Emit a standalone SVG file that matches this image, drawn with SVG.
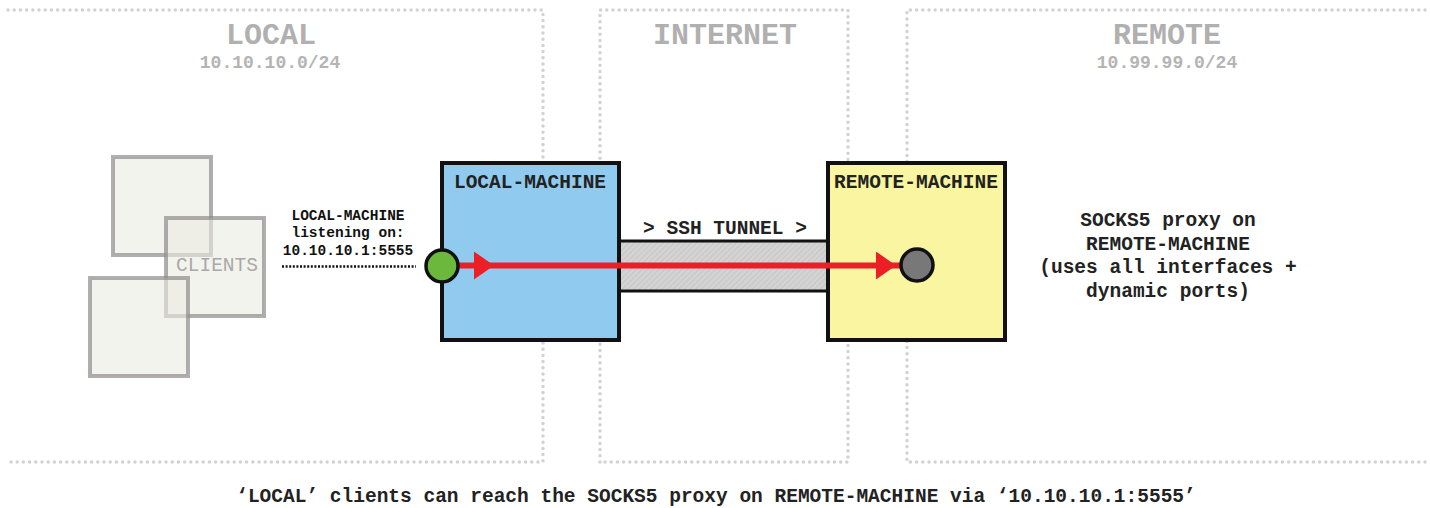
<svg xmlns="http://www.w3.org/2000/svg" width="1430" height="508" viewBox="0 0 1430 508">
  <style>
    .zone { fill: none; stroke: #d2d2d2; stroke-width: 3.5; stroke-dasharray: 0 6.2; stroke-linecap: round; }
    .title { font-family: "Liberation Mono", "Courier New", monospace; font-weight: bold; font-size: 30px; fill: #b0b0b0; text-anchor: middle; }
    .sub { font-family: "Liberation Mono", "Courier New", monospace; font-weight: bold; font-size: 18px; fill: #b4b4b4; text-anchor: middle; }
    .lbl { font-family: "Liberation Mono", "Courier New", monospace; font-weight: bold; font-size: 19.5px; fill: #222; text-anchor: middle; }
    .small { font-family: "Liberation Mono", "Courier New", monospace; font-weight: bold; font-size: 14.5px; fill: #111; text-anchor: middle; }
    .client { fill: #ebebe3; fill-opacity: 0.6; stroke: #8f8b8b; stroke-opacity: 0.7; stroke-width: 4; }
    .box { stroke: #111; stroke-width: 4; }
    .red { stroke: #ec1f26; stroke-width: 6; fill: none; }
  </style>
  <defs>
    <pattern id="hatch" width="4" height="4" patternUnits="userSpaceOnUse" patternTransform="rotate(45)">
      <rect width="4" height="4" fill="#d3d3d3"/>
      <line x1="0" y1="0" x2="0" y2="4" stroke="#bdbdbd" stroke-width="1.2"/>
    </pattern>
    <marker id="arrow" markerUnits="userSpaceOnUse" markerWidth="22" markerHeight="30" refX="20" refY="14" orient="auto">
      <path d="M0,0 L20,14 L0,28 Z" fill="#ec1f26"/>
    </marker>
  </defs>

  <g id="zones">
    <path class="zone" d="M8,10 H543 V462 H8"/>
    <path class="zone" d="M600,462 V10 H848 V462 H600"/>
    <path class="zone" d="M1425,10 H907 V462 H1425"/>
  </g>

  <g id="zone-labels">
    <text class="title" x="271" y="44">LOCAL</text>
    <text class="sub" x="270" y="68">10.10.10.0/24</text>
    <text class="title" x="725" y="44">INTERNET</text>
    <text class="title" x="1167" y="44">REMOTE</text>
    <text class="sub" x="1167" y="68">10.99.99.0/24</text>
  </g>

  <g id="clients">
    <rect class="client" x="113" y="157" width="98" height="98"/>
    <rect class="client" x="166" y="218" width="98" height="98"/>
    <rect class="client" x="90" y="278" width="98" height="98"/>
    <text x="217" y="271" font-family="Liberation Mono, Courier New, monospace" font-size="19.5" fill="#a8a8a8" text-anchor="middle">CLIENTS</text>
  </g>

  <g id="listen-label">
    <text class="small" x="348" y="220">LOCAL-MACHINE</text>
    <text class="small" x="348" y="237">listening on:</text>
    <text class="small" x="348" y="255">10.10.10.1:5555</text>
  </g>

  <g id="tunnel">
    <rect x="619" y="241" width="209" height="50" fill="url(#hatch)" stroke="#111" stroke-width="3"/>
    <text class="lbl" x="725" y="234">&gt; SSH TUNNEL &gt;</text>
  </g>

  <g id="local-machine">
    <rect class="box" x="442" y="163" width="177" height="177" fill="#90cbef"/>
    <text class="lbl" x="530" y="188">LOCAL-MACHINE</text>
  </g>

  <g id="remote-machine">
    <rect class="box" x="828" y="163" width="177" height="177" fill="#f9f5a0"/>
    <text class="lbl" x="916" y="188">REMOTE-MACHINE</text>
  </g>

  <g id="socks-label">
    <text class="lbl" x="1168" y="226">SOCKS5 proxy on</text>
    <text class="lbl" x="1168" y="250">REMOTE-MACHINE</text>
    <text class="lbl" x="1168" y="273">(uses all interfaces +</text>
    <text class="lbl" x="1168" y="297">dynamic ports)</text>
  </g>

  <g id="connectors">
    <line x1="282" y1="266.5" x2="416" y2="266.5" stroke="#111" stroke-width="2.5" stroke-dasharray="2 1.6"/>
    <line class="red" x1="442" y1="265.5" x2="910" y2="265.5"/>
    <line x1="470" y1="265.5" x2="494" y2="265.5" stroke="none" marker-end="url(#arrow)"/>
    <line x1="860" y1="265.5" x2="896" y2="265.5" stroke="none" marker-end="url(#arrow)"/>
  </g>

  <g id="local-port">
    <circle cx="442" cy="266" r="16" fill="#6bb83c" stroke="#111" stroke-width="3.5"/>
  </g>
  <g id="remote-port">
    <circle cx="917" cy="265" r="16" fill="#787878" stroke="#111" stroke-width="3.5"/>
  </g>

  <g id="caption">
    <text class="lbl" x="716" y="502" fill="#111">‘LOCAL’ clients can reach the SOCKS5 proxy on REMOTE-MACHINE via ‘10.10.10.1:5555’</text>
  </g>
</svg>
